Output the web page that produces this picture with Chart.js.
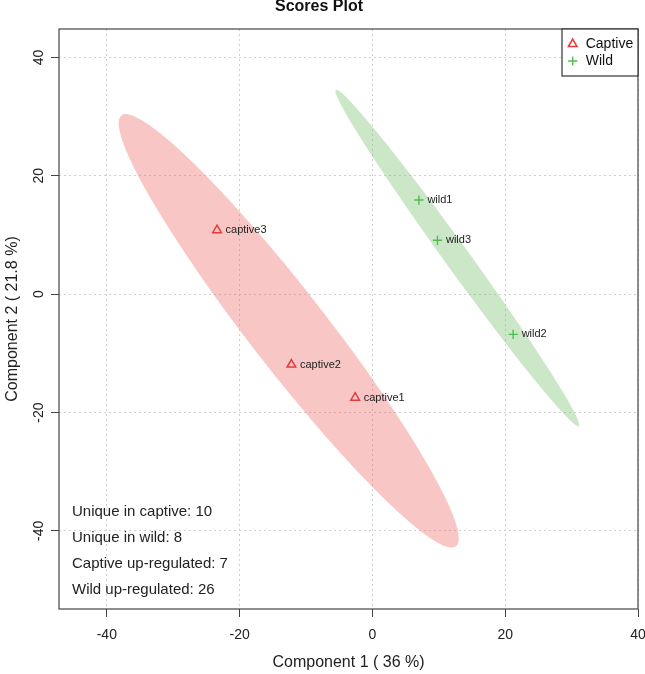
<!DOCTYPE html>
<html>
<head>
<meta charset="utf-8">
<title>Scores Plot</title>
<script src="https://cdn.jsdelivr.net/npm/chart.js@4.4.1/dist/chart.umd.min.js"></script>
<style>
  html, body { margin: 0; padding: 0; background: #fff; }
  #wrap { width: 645px; height: 674px; }
</style>
</head>
<body>
<div id="wrap"><canvas id="scoresPlot" width="645" height="674"></canvas></div>
<script>
// scores
var captiveNames = ['captive1', 'captive2', 'captive3'];
var captiveX = [-2.6, -12.2, -23.4];
var captiveY = [-17.5, -11.9, 10.8];
var wildNames = ['wild1', 'wild2', 'wild3'];
var wildX = [7.0, 21.2, 9.8];
var wildY = [15.9, -6.8, 9.1];

// group ellipses: centre, half major axis, half minor axis (data units)
var ellipseCenterX = [-12.6, 12.8];
var ellipseCenterY = [-6.2, 6.1];
var ellipseMajorX = [25.2, 18.3];
var ellipseMajorY = [-36.4, -28.4];
var ellipseMinorX = [4.6, 1.5];
var ellipseMinorY = [4.0, 1.2];

var xTicks = [-40, -20, 0, 20, 40];
var yTicks = [-40, -20, 0, 20, 40];
var notes = ['Unique in captive: 10', 'Unique in wild: 8', 'Captive up-regulated: 7', 'Wild up-regulated: 26'];

var FONT = 'Liberation Sans, Arial, Helvetica, sans-serif';
var ellipseColors = ['rgba(238, 96, 98, 0.36)', 'rgba(112, 189, 101, 0.36)'];
var pointNames = [captiveNames, wildNames];

Chart.defaults.font.family = FONT;

function toPoints(xs, ys) {
    return xs.map(function (x, i) { return { x: x, y: ys[i] }; });
}

var ellipsePlugin = {
    id: 'ellipses',
    beforeDatasetsDraw: function (chart) {
        var ctx = chart.ctx, xs = chart.scales.x, ys = chart.scales.y, a = chart.chartArea;
        ctx.save();
        ctx.beginPath();
        ctx.rect(a.left, a.top, a.right - a.left, a.bottom - a.top);
        ctx.clip();
        for (var i = 0; i < ellipseCenterX.length; i++) {
            var cx = xs.getPixelForValue(ellipseCenterX[i]);
            var cy = ys.getPixelForValue(ellipseCenterY[i]);
            var mx = xs.getPixelForValue(ellipseCenterX[i] + ellipseMajorX[i]) - cx;
            var my = ys.getPixelForValue(ellipseCenterY[i] + ellipseMajorY[i]) - cy;
            var nx = xs.getPixelForValue(ellipseCenterX[i] + ellipseMinorX[i]) - cx;
            var ny = ys.getPixelForValue(ellipseCenterY[i] + ellipseMinorY[i]) - cy;
            ctx.beginPath();
            ctx.ellipse(cx, cy, Math.hypot(mx, my), Math.hypot(nx, ny), Math.atan2(my, mx), 0, 2 * Math.PI);
            ctx.fillStyle = ellipseColors[i];
            ctx.fill();
        }
        ctx.restore();
    }
};

var decorPlugin = {
    id: 'decor',
    afterDatasetsDraw: function (chart) {
        var ctx = chart.ctx, a = chart.chartArea;
        ctx.save();
        // sample names next to the points
        ctx.font = '11px ' + FONT;
        ctx.fillStyle = '#222';
        ctx.textBaseline = 'middle';
        ctx.textAlign = 'left';
        chart.data.datasets.forEach(function (ds, d) {
            chart.getDatasetMeta(d).data.forEach(function (pt, i) {
                ctx.fillText(pointNames[d][i], pt.x + 8.5, pt.y);
            });
        });
        // summary text
        ctx.font = '15px ' + FONT;
        notes.forEach(function (t, i) {
            ctx.fillText(t, a.left + 13, a.bottom - 97 + i * 26);
        });
        // frame
        ctx.strokeStyle = '#444';
        ctx.lineWidth = 1.2;
        ctx.strokeRect(a.left, a.top, a.right - a.left, a.bottom - a.top);
        ctx.restore();
    },
    afterDraw: function (chart) {
        var ctx = chart.ctx, a = chart.chartArea;
        var w = 76, h = 47, left = a.right - w, top = a.top;
        ctx.save();
        ctx.fillStyle = '#fff';
        ctx.fillRect(left, top, w, h);
        ctx.strokeStyle = '#333';
        ctx.lineWidth = 1.2;
        ctx.strokeRect(left, top, w, h);
        chart.data.datasets.forEach(function (ds, i) {
            var sy = top + 15 + i * 17;
            ctx.strokeStyle = ds.borderColor;
            ctx.fillStyle = 'rgba(0,0,0,0)';
            ctx.lineWidth = ds.borderWidth;
            Chart.helpers.drawPoint(ctx, { pointStyle: ds.pointStyle, radius: ds.pointRadius, borderWidth: ds.borderWidth, rotation: 0 }, left + 10.7, sy);
            ctx.fillStyle = '#111';
            ctx.font = '14px ' + FONT;
            ctx.textBaseline = 'middle';
            ctx.fillText(ds.label, left + 23.7, sy);
        });
        ctx.restore();
    }
};

var ctx = document.getElementById('scoresPlot').getContext('2d');
var scoresChart = new Chart(ctx, {
    type: 'scatter',
    data: {
        datasets: [{
            label: 'Captive',
            data: toPoints(captiveX, captiveY),
            pointStyle: 'triangle',
            pointRadius: 5,
            borderColor: '#E23B3B',
            backgroundColor: 'rgba(0,0,0,0)',
            borderWidth: 1.5
        }, {
            label: 'Wild',
            data: toPoints(wildX, wildY),
            pointStyle: 'cross',
            pointRadius: 4.6,
            borderColor: '#4DBE4D',
            backgroundColor: 'rgba(0,0,0,0)',
            borderWidth: 1.4
        }]
    },
    options: {
        responsive: false,
        animation: false,
        events: [],
        layout: { padding: { left: 0, right: 7, top: 0, bottom: 0 } },
        plugins: {
            legend: { display: false },
            tooltip: { enabled: false },
            title: {
                display: true,
                text: 'Scores Plot',
                color: '#111',
                font: { size: 16, weight: 'bold' },
                padding: { top: -3, bottom: 12.8 }
            }
        },
        scales: {
            x: {
                type: 'linear',
                min: -47.2,
                max: 40,
                afterBuildTicks: function (s) { s.ticks = xTicks.map(function (v) { return { value: v }; }); },
                afterFit: function (s) { s.height = 65; s.paddingLeft = 0; s.paddingRight = 0; },
                grid: { color: '#d0d0d0', lineWidth: 1, tickLength: 8, tickColor: '#444', tickWidth: 1 },
                border: { display: false, dash: [2, 3] },
                ticks: { padding: 10, maxRotation: 0, color: '#222', font: { size: 14 } },
                title: {
                    display: true,
                    text: 'Component 1 ( 36 %)',
                    color: '#222',
                    font: { size: 16 },
                    padding: { top: 0, bottom: 1.4 }
                }
            },
            y: {
                type: 'linear',
                min: -53.2,
                max: 44.8,
                afterBuildTicks: function (s) { s.ticks = yTicks.map(function (v) { return { value: v }; }); },
                afterFit: function (s) { s.width = 59; s.paddingTop = 0; s.paddingBottom = 0; },
                grid: { color: '#d0d0d0', lineWidth: 1, tickLength: 8, tickColor: '#444', tickWidth: 1 },
                border: { display: false, dash: [2, 3] },
                ticks: { minRotation: 90, maxRotation: 90, crossAlign: 'center', padding: 2, color: '#222', font: { size: 14 } },
                title: {
                    display: true,
                    text: 'Component 2 ( 21.8 %)',
                    color: '#222',
                    font: { size: 16 },
                    padding: { top: 3, bottom: 0 }
                }
            }
        }
    },
    plugins: [ellipsePlugin, decorPlugin]
});
</script>
</body>
</html>
